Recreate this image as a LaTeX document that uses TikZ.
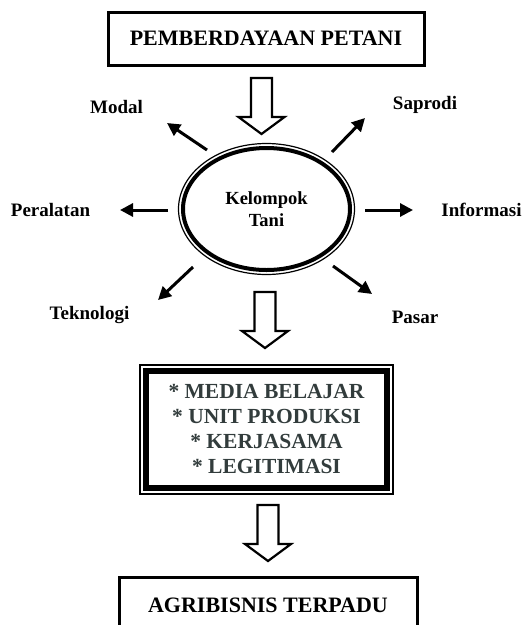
\documentclass[tikz,border=0pt]{standalone}
\usepackage{fontspec}
\setmainfont{Liberation Serif}
\usetikzlibrary{arrows.meta,shapes.geometric}
\definecolor{slate}{RGB}{50,60,60}
\begin{document}
\begin{tikzpicture}[x=1pt,y=-1pt,
  boxA/.style={draw, line width=3pt, font=\bfseries\fontsize{22}{25}\selectfont, inner sep=0pt},
  lbl/.style={font=\bfseries\fontsize{19}{22}\selectfont, inner sep=0pt},
  thinarrow/.style={line width=3pt, -{Triangle[length=13pt,width=13pt]}},
  blockarrow/.style={draw, line width=2.2pt, fill=white, line join=miter},
  barrow/.pic={\draw[blockarrow] (-10.5,0) -- (-10.5,39) -- (-23,39) -- (0,56) -- (23,39) -- (10.5,39) -- (10.5,0) -- cycle;}
]
\useasboundingbox (0,0) rectangle (524,625);
\clip (0,0) rectangle (524,625);

% top box
\node[boxA, minimum width=316pt, minimum height=53pt] (top) at (266,38.5) {PEMBERDAYAAN PETANI};

% block arrows
\pic at (261.5,78) {barrow};
\pic at (265,292) {barrow};
\pic at (268,505) {barrow};

% ellipse
\node[ellipse, draw, line width=4pt, minimum width=167pt, minimum height=122pt, inner sep=0pt,
      align=center, font=\bfseries\fontsize{18.5}{22}\selectfont] (kt) at (266.5,209) {Kelompok\\Tani};
\draw[line width=1.2pt] (kt.center) ellipse [x radius=88, y radius=65.5];

% labels
\node[lbl] (modal) at (116.5,107) {Modal};
\node[lbl] (peralatan) at (50.5,210) {Peralatan};
\node[lbl] (teknologi) at (89.5,315) {Teknologi};
\node[lbl] (saprodi) at (425,105) {Saprodi};
\node[lbl] (informasi) at (481.5,210) {Informasi};
\node[lbl] (pasar) at (415,317) {Pasar};

% thin arrows
\coordinate (a1s) at (207,150); \coordinate (a1e) at (167,123);
\coordinate (a2s) at (168,210); \coordinate (a2e) at (120,210);
\coordinate (a3s) at (193,267); \coordinate (a3e) at (158,300);
\coordinate (a4s) at (332,152); \coordinate (a4e) at (365,118);
\coordinate (a5s) at (365,210); \coordinate (a5e) at (413,210);
\coordinate (a6s) at (333,266); \coordinate (a6e) at (372,294);
\draw[thinarrow] (a1s) -- (a1e);
\draw[thinarrow] (a2s) -- (a2e);
\draw[thinarrow] (a3s) -- (a3e);
\draw[thinarrow] (a4s) -- (a4e);
\draw[thinarrow] (a5s) -- (a5e);
\draw[thinarrow] (a6s) -- (a6e);

% middle box
\node[draw, line width=6pt, minimum width=241.5pt, minimum height=117pt, inner sep=0pt,
      align=center, text=slate, font=\bfseries\fontsize{21.5}{25}\selectfont] (mid) at (266.5,429.5)
      {* MEDIA BELAJAR\\* UNIT PRODUKSI\\* KERJASAMA\\* LEGITIMASI};
\draw[line width=1.2pt] (mid.center) ++(-126.5,-64.5) rectangle ++(253,129);

% bottom box
\node[boxA, minimum width=298pt, minimum height=56pt] (bot) at (268,605) {AGRIBISNIS TERPADU};
\end{tikzpicture}
\end{document}
